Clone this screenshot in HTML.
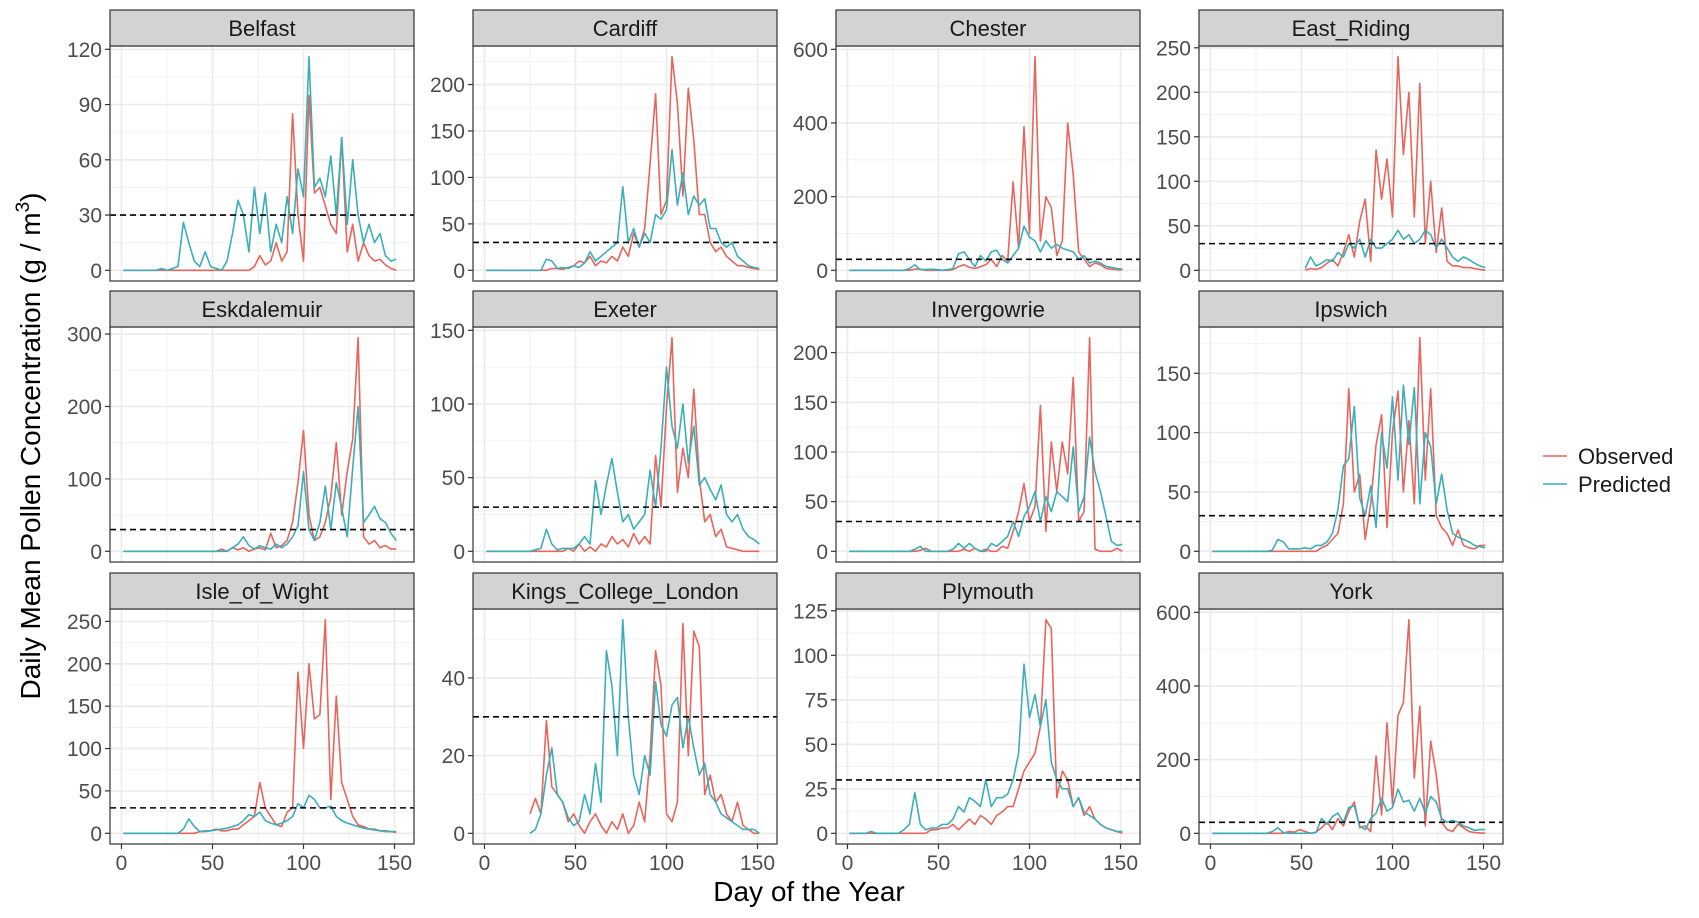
<!DOCTYPE html>
<html><head><meta charset="utf-8"><title>Daily Mean Pollen Concentration</title>
<style>
html,body{margin:0;padding:0;background:#fff;}
svg{display:block;font-family:"Liberation Sans",Arial,sans-serif;}
</style></head>
<body>
<svg id="chart" width="1699" height="918" viewBox="0 0 1699 918" xmlns="http://www.w3.org/2000/svg">
<rect x="0" y="0" width="1699" height="918" fill="#fff"/>
<g id="panels"></g>
<text transform="translate(40,446) rotate(-90)" text-anchor="middle" font-size="28" fill="#000">Daily Mean Pollen Concentration (g / m<tspan font-size="19" dy="-11">3</tspan><tspan dy="11">)</tspan></text>
<text x="809" y="901" text-anchor="middle" font-size="28" fill="#000">Day of the Year</text>
<g>
  <line x1="1543" x2="1567" y1="456" y2="456" stroke="#E8655C" stroke-width="1.6"/>
  <text x="1578" y="464" font-size="22" fill="#1a1a1a">Observed</text>
  <line x1="1543" x2="1567" y1="484" y2="484" stroke="#3AAFB9" stroke-width="1.6"/>
  <text x="1578" y="492" font-size="22" fill="#1a1a1a">Predicted</text>
</g>
</svg>
<script>
const days = [1,4,7,10,13,16,19,22,25,28, 31,34,37,40,43,46,49,52,55,58, 61,64,67,70,73,76,79,82,85,88, 91,94,97,100,103,106,109,112,115,118, 121,124,127,130,133,136,139,142,145,148, 151];
const xTicks = [0,50,100,150];
const threshold = 30;

const belfastObs = [0,0,0,0,0,0,0,0,0,0, 0,0,0,0,0,0,0,0,0,0, 0,0,0,0,2,8,3,5,15,5, 10,85,30,5,95,42,45,35,25,20, 72,10,25,5,15,8,5,6,3,1, 0];
const belfastPred = [0,0,0,0,0,0,0,1,0,1, 2,26,15,5,2,10,2,1,0,5, 20,38,30,10,45,20,42,10,25,15, 40,20,55,40,116,45,50,40,62,30, 72,25,60,30,15,25,15,20,8,5, 6];
const belfastTicks = [0,30,60,90,120];

const cardiffObs = [0,0,0,0,0,0,0,0,0,0, 0,0,2,2,1,3,5,10,8,15, 5,10,8,15,10,25,15,40,25,45, 115,190,60,75,230,180,80,196,140,60, 60,30,20,25,15,10,5,5,3,2, 1];
const cardiffPred = [0,0,0,0,0,0,0,0,0,0, 0,12,10,2,3,2,5,3,8,20, 10,15,20,25,30,90,30,45,25,40, 30,60,55,65,130,70,105,60,80,70, 77,45,45,30,25,30,15,10,5,3, 2];
const cardiffTicks = [0,50,100,150,200];

const chesterObs = [0,0,0,0,0,0,0,0,0,0, 0,0,3,3,0,0,0,0,0,2, 10,15,8,5,10,15,30,10,40,25, 240,60,390,100,580,80,200,170,40,80, 400,260,50,30,10,20,15,5,3,2, 1];
const chesterPred = [0,0,0,0,0,0,0,0,0,0, 0,5,15,2,2,3,2,0,2,5, 45,50,30,10,40,25,50,55,30,20, 40,60,120,90,80,50,80,60,70,60, 55,50,30,40,20,25,20,10,8,5, 3];
const chesterTicks = [0,200,400,600];

const eastRidingObs = [null,null,null,null,null,null,null,null,null,null, null,null,null,null,null,null,null,0,2,1, 3,8,12,5,20,40,15,55,80,10, 135,80,125,60,240,130,200,60,210,30, 100,20,70,10,5,5,3,3,2,1, 0];
const eastRidingPred = [null,null,null,null,null,null,null,null,null,null, null,null,null,null,null,null,null,2,15,5, 8,12,10,20,15,30,25,35,15,35, 25,25,30,35,45,35,40,30,35,45, 40,25,35,25,15,10,15,12,8,5, 3];
const eastRidingTicks = [0,50,100,150,200,250];

const eskdalemuirObs = [0,0,0,0,0,0,0,0,0,0, 0,0,0,0,0,0,0,0,3,0, 5,2,5,0,3,5,2,25,5,8, 15,40,95,167,50,15,20,40,75,150, 50,110,155,295,20,10,15,5,8,3, 3];
const eskdalemuirPred = [0,0,0,0,0,0,0,0,0,0, 0,0,0,0,0,0,0,0,0,0, 5,10,20,8,3,8,5,3,10,5, 10,20,35,110,30,15,40,90,30,95, 60,20,115,200,40,50,62,45,40,25, 15];
const eskdalemuirTicks = [0,100,200,300];

const exeterObs = [0,0,0,0,0,0,0,0,0,0, 0,0,0,0,0,2,0,5,0,3, 0,5,3,10,5,8,3,12,5,10, 5,65,30,98,145,40,70,50,110,50, 20,25,10,15,3,2,1,0,0,0, 0];
const exeterPred = [0,0,0,0,0,0,0,0,0,1, 2,15,5,1,2,2,2,5,10,5, 48,25,45,63,40,20,25,15,20,25, 55,30,70,125,85,70,100,60,85,45, 50,42,35,45,25,20,25,15,10,8, 5];
const exeterTicks = [0,50,100,150];

const invergowrieObs = [0,0,0,0,0,0,0,0,0,0, 0,0,0,1,3,0,0,0,0,0, 0,2,0,3,0,2,0,0,5,3, 20,40,68,30,45,147,20,110,60,110, 78,175,30,40,215,2,0,0,0,3, 0];
const invergowriePred = [0,0,0,0,0,0,0,0,0,0, 0,0,2,5,0,0,0,0,0,2, 8,3,8,3,0,0,8,5,10,15, 30,15,35,45,60,30,55,40,60,55, 50,105,40,55,115,80,60,35,10,6, 7];
const invergowrieTicks = [0,50,100,150,200];

const ipswichObs = [0,0,0,0,0,0,0,0,0,0, 0,0,0,0,0,0,0,0,0,0, 3,5,10,15,40,137,50,65,10,40, 90,115,20,100,135,50,110,40,180,60, 137,30,20,15,5,18,5,3,2,5, 5];
const ipswichPred = [0,0,0,0,0,0,0,0,0,0, 0,1,10,8,2,2,2,3,2,5, 5,8,15,35,72,78,122,45,30,55, 20,100,70,130,60,140,90,138,40,100, 88,40,65,35,15,12,10,8,5,4, 3];
const ipswichTicks = [0,50,100,150];

const wightObs = [0,0,0,0,0,0,0,0,0,0, 0,0,0,0,2,2,3,5,3,3, 5,5,10,15,20,60,30,20,10,8, 25,30,190,100,200,135,140,252,40,162, 60,40,20,10,8,5,5,3,3,2, 1];
const wightPred = [0,0,0,0,0,0,0,0,0,0, 0,5,17,8,2,3,3,4,5,6, 8,10,15,22,20,25,15,12,10,12, 15,20,35,30,45,40,30,30,32,20, 15,12,10,8,6,5,4,3,2,2, 2];
const wightTicks = [0,50,100,150,200,250];

const kingsObs = [null,null,null,null,null,null,null,null,5,9, 5,29,12,10,8,3,5,2,0,3, 5,2,0,3,1,5,0,2,8,3, 20,47,38,5,3,8,54,20,52,48, 10,15,8,10,5,3,8,2,1,0, 0];
const kingsPred = [null,null,null,null,null,null,null,null,0,1, 5,15,22,10,8,4,2,3,10,5, 18,8,47,38,20,55,30,15,10,20, 15,39,28,25,33,35,22,30,22,15, 18,10,8,5,4,3,2,1,1,1, 0];
const kingsTicks = [0,20,40];

const plymouthObs = [0,0,0,0,0,0,0,0,0,0, 0,0,0,0,0,2,2,3,3,5, 2,5,8,5,10,8,5,10,12,15, 15,25,35,40,45,60,120,115,20,35, 30,15,20,10,15,8,5,3,2,1, 0];
const plymouthPred = [0,0,0,0,1,0,0,0,0,0, 2,5,23,5,2,3,3,5,5,8, 15,12,20,18,15,30,15,20,20,22, 30,45,95,65,78,60,75,40,30,25, 25,15,20,12,10,8,5,3,2,1, 1];
const plymouthTicks = [0,25,50,75,100,125];

const yorkObs = [0,0,0,0,0,0,0,0,0,0, 0,0,0,0,5,3,10,5,0,3, 15,30,10,40,20,60,85,15,20,5, 210,50,300,80,320,355,580,150,345,20, 250,160,30,10,5,25,15,5,2,1, 0];
const yorkPred = [0,0,0,0,0,0,0,0,0,0, 0,5,15,2,0,0,0,0,0,2, 40,25,45,55,30,70,75,20,10,40, 55,95,60,70,120,85,90,60,95,55, 100,85,40,30,35,30,20,15,8,10, 10];
const yorkTicks = [0,200,400,600];

const panelNames = ['Belfast','Cardiff','Chester','East_Riding','Eskdalemuir','Exeter','Invergowrie','Ipswich','Isle_of_Wight','Kings_College_London','Plymouth','York'];
const obsSeries = [belfastObs,cardiffObs,chesterObs,eastRidingObs,eskdalemuirObs,exeterObs,invergowrieObs,ipswichObs,wightObs,kingsObs,plymouthObs,yorkObs];
const predSeries = [belfastPred,cardiffPred,chesterPred,eastRidingPred,eskdalemuirPred,exeterPred,invergowriePred,ipswichPred,wightPred,kingsPred,plymouthPred,yorkPred];
const yTickSets = [belfastTicks,cardiffTicks,chesterTicks,eastRidingTicks,eskdalemuirTicks,exeterTicks,invergowrieTicks,ipswichTicks,wightTicks,kingsTicks,plymouthTicks,yorkTicks];

const NS = 'http://www.w3.org/2000/svg';
const root = document.getElementById('panels');
const colLeft = [110,473,836,1199];
const panelW = 304, panelH = 235, stripH = 36;
const rowTop = [46,327,609];
const xMin = -6.3, xMax = 160.7;
const OBS = '#E8655C', PRED = '#3AAFB9';

function mk(tag, attrs, parent){
  const e = document.createElementNS(NS, tag);
  for (const k in attrs) e.setAttribute(k, attrs[k]);
  parent.appendChild(e);
  return e;
}

panelNames.forEach((name, p) => {
  const col = p % 4, row = Math.floor(p / 4);
  const L = colLeft[col], T = rowTop[row];
  const obs = obsSeries[p], pred = predSeries[p], ticks = yTickSets[p];
  let M = 0;
  obs.concat(pred).forEach(v => { if (v !== null && v > M) M = v; });
  const yLo = -0.05 * M, yHi = 1.05 * M;
  const xs = d => L + (d - xMin) / (xMax - xMin) * panelW;
  const ys = v => T + panelH - (v - yLo) / (yHi - yLo) * panelH;
  const slug = name.toLowerCase().replace(/_/g, '-');

  const g = mk('g', {}, root);
  
  

  const clipId = 'clip' + p;
  const cp = mk('clipPath', {id: clipId}, g);
  mk('rect', {x: L, y: T, width: panelW, height: panelH}, cp);

  const bg = mk('rect', {x: L, y: T, width: panelW, height: panelH, fill: '#fff'}, g);
  
  

  const grid = mk('g', {'clip-path': 'url(#' + clipId + ')'}, g);
  
  
  const step = ticks[1] - ticks[0];
  for (let i = -1; i < ticks.length + 1; i++) {
    const mv = ticks[0] + (i + 0.5) * step;
    if (mv > yLo && mv < yHi) mk('line', {x1: L, x2: L + panelW, y1: ys(mv), y2: ys(mv), stroke: '#F2F2F2', 'stroke-width': 1}, grid);
  }
  for (let i = 0; i < xTicks.length - 1; i++) {
    const mv = (xTicks[i] + xTicks[i + 1]) / 2;
    mk('line', {x1: xs(mv), x2: xs(mv), y1: T, y2: T + panelH, stroke: '#F2F2F2', 'stroke-width': 1}, grid);
  }
  ticks.forEach(t => mk('line', {x1: L, x2: L + panelW, y1: ys(t), y2: ys(t), stroke: '#EBEBEB', 'stroke-width': 1.6}, grid));
  xTicks.forEach(t => mk('line', {x1: xs(t), x2: xs(t), y1: T, y2: T + panelH, stroke: '#EBEBEB', 'stroke-width': 1.6}, grid));

  const lines = mk('g', {'clip-path': 'url(#' + clipId + ')', fill: 'none', 'stroke-width': 1.6, 'stroke-linejoin': 'round'}, g);
  [[obs, OBS, 'observed'], [pred, PRED, 'predicted']].forEach(([arr, color, label]) => {
    let d = '', pen = false;
    arr.forEach((v, i) => {
      if (v === null) { pen = false; return; }
      d += (pen ? 'L' : 'M') + xs(days[i]).toFixed(1) + ',' + ys(v).toFixed(1);
      pen = true;
    });
    const path = mk('path', {d: d, stroke: color}, lines);
    
    
  });

  const hl = mk('line', {x1: L, x2: L + panelW, y1: ys(threshold), y2: ys(threshold), stroke: '#000', 'stroke-width': 1.6, 'stroke-dasharray': '6,4'}, g);
  
  

  const border = mk('rect', {x: L, y: T, width: panelW, height: panelH, fill: 'none', stroke: '#333', 'stroke-width': 1.2}, g);
  
  

  const strip = mk('rect', {x: L, y: T - stripH, width: panelW, height: stripH, fill: '#D3D3D3', stroke: '#333', 'stroke-width': 1.2}, g);
  
  
  const st = mk('text', {x: L + panelW / 2, y: T - stripH / 2 + 8, 'text-anchor': 'middle', 'font-size': 22, fill: '#1A1A1A'}, g);
  
  
  st.textContent = name;

  const ya = mk('g', {}, g);
  
  
  ticks.forEach(t => {
    mk('line', {x1: L - 5, x2: L, y1: ys(t), y2: ys(t), stroke: '#333', 'stroke-width': 1.2}, ya);
    const tx = mk('text', {x: L - 8, y: ys(t) + 7.5, 'text-anchor': 'end', 'font-size': 21, fill: '#4D4D4D'}, ya);
    
    
    tx.textContent = t;
  });

  if (row === 2) {
    const xa = mk('g', {}, g);
    
    
    xTicks.forEach(t => {
      mk('line', {x1: xs(t), x2: xs(t), y1: T + panelH, y2: T + panelH + 5, stroke: '#333', 'stroke-width': 1.2}, xa);
      const tx = mk('text', {x: xs(t), y: T + panelH + 26, 'text-anchor': 'middle', 'font-size': 21, fill: '#4D4D4D'}, xa);
      
      
      tx.textContent = t;
    });
  }
});
</script>
</body></html>
